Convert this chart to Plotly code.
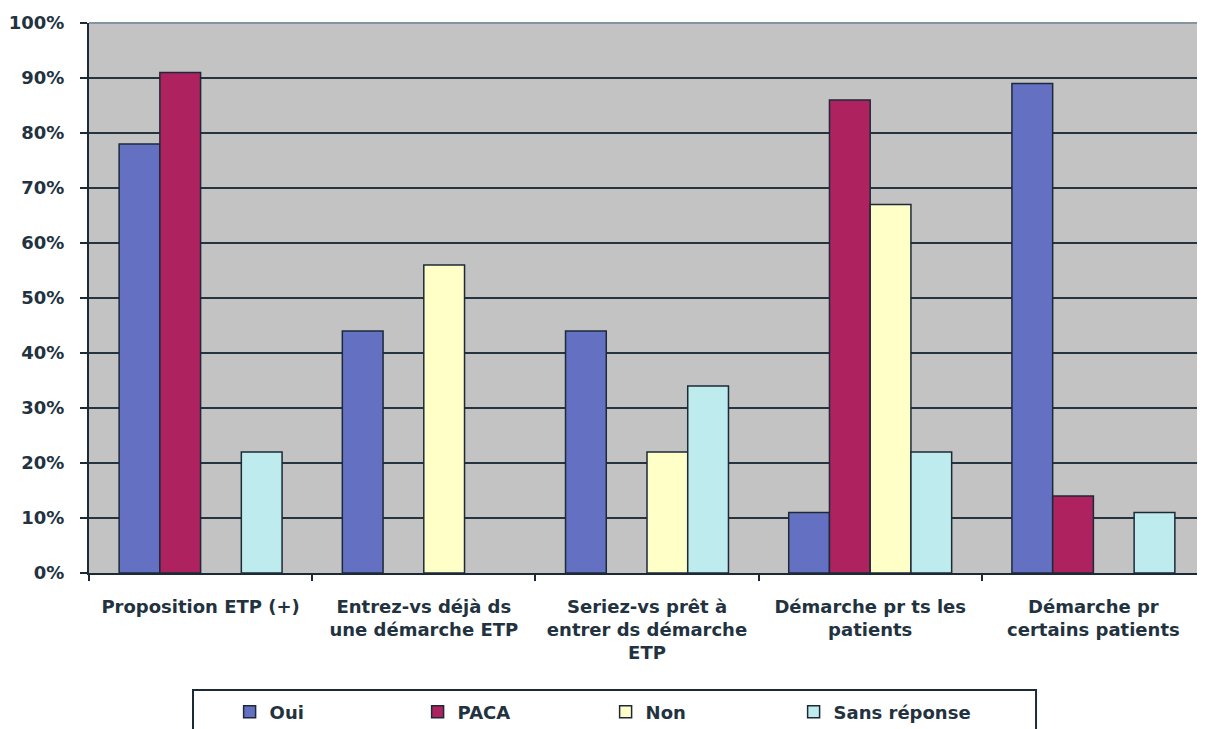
import plotly.graph_objects as go

categories = [
    "Proposition ETP (+)",
    "Entrez-vs déjà ds<br>une démarche ETP",
    "Seriez-vs prêt à<br>entrer ds démarche<br>ETP",
    "Démarche pr ts les<br>patients",
    "Démarche pr<br>certains patients",
]
series_names = ["Oui", "PACA", "Non", "Sans réponse"]
oui = [78, 44, 44, 11, 89]
paca = [91, None, None, 86, 14]
non = [None, 56, 22, 67, None]
sans_reponse = [22, None, 34, 22, 11]
y_tick_values = [0, 10, 20, 30, 40, 50, 60, 70, 80, 90, 100]
y_tick_labels = [f"{v}%" for v in y_tick_values]

colors = ["#6470C2", "#AE2260", "#FFFFC8", "#BDEBEE"]
text_color = "#22323F"
font_family = "DejaVu Sans"
fsize = 18

fig = go.Figure()
for name, vals, col in zip(series_names, [oui, paca, non, sans_reponse], colors):
    fig.add_trace(go.Bar(
        x=categories, y=vals, name=name,
        marker=dict(color=col, line=dict(color="#1C2A38", width=1.5)),
    ))

fig.update_layout(
    width=1197, height=721,
    margin=dict(l=81, r=0, t=15, b=156, autoexpand=False),
    paper_bgcolor="white",
    plot_bgcolor="#C3C3C3",
    barmode="group",
    bargap=0.27,
    bargroupgap=0,
    font=dict(family=font_family, size=fsize, color=text_color, weight="bold"),
    showlegend=True,
    legend=dict(
        orientation="h",
        x=0.126, xanchor="left",
        y=-0.219, yanchor="top",
        bgcolor="rgba(0,0,0,0)",
        borderwidth=0,
        entrywidth=143,
        font=dict(family=font_family, size=fsize, color=text_color, weight="bold"),
        traceorder="normal",
    ),
    shapes=[
        dict(
            type="rect", xref="paper", yref="paper",
            x0=0.0932, x1=0.8486, y0=-0.2127, y1=-0.32,
            line=dict(color="#1C2A38", width=2), fillcolor="white", layer="below",
        ),
        dict(
            type="line", xref="paper", yref="paper",
            x0=0, x1=1, y0=1, y1=1,
            line=dict(color="#8595A0", width=2), layer="above",
        ),
    ],
)
fig.update_xaxes(
    type="category",
    showline=True, linecolor="#1C2A38", linewidth=2,
    ticks="outside", tickson="boundaries", ticklen=6, tickcolor="#1C2A38", tickwidth=2,
    ticklabelstandoff=16,
    showgrid=False,
)
fig.update_yaxes(
    range=[0, 100],
    tickvals=y_tick_values, ticktext=y_tick_labels,
    showline=True, linecolor="#1C2A38", linewidth=2,
    ticks="outside", ticklen=7, tickcolor="#1C2A38", tickwidth=2,
    ticklabelstandoff=12,
    showgrid=True, gridcolor="#25343E", gridwidth=2,
    zeroline=False,
)

fig.write_html("out.html")
